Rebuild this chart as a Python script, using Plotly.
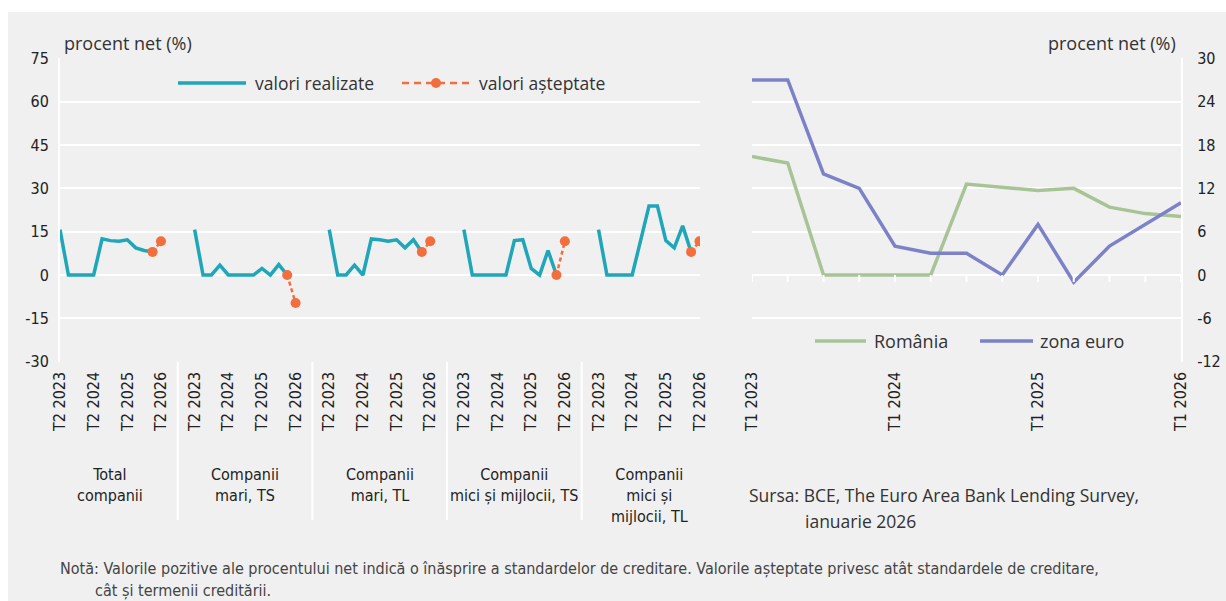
import plotly.graph_objects as go

# --- data -----------------------------------------------------------------
# left panel: net percentage per group, quarters T2 2023 .. T1 2026 (realized)
# and the expected values (last realized quarter -> T2 2026)
group_labels = ["Total<br>companii", "Companii<br>mari, TS", "Companii<br>mari, TL",
                "Companii<br>mici și mijlocii, TS", "Companii<br>mici și<br>mijlocii, TL"]
tick_labels_left = ["T2 2023", "T2 2024", "T2 2025", "T2 2026"]
y_ticks_left = [-30, -15, 0, 15, 30, 45, 60, 75]

total_realized = [15.7, 0, 0, 0, 0, 12.5, 11.9, 11.7, 12.2, 9.4, 8.5, 8.0]
total_expected = [8.0, 11.7]
mari_ts_realized = [15.7, 0, 0, 3.4, 0, 0, 0, 0, 2.3, 0, 3.6, 0]
mari_ts_expected = [0, -9.7]
mari_tl_realized = [15.7, 0, 0, 3.4, 0, 12.5, 12.2, 11.7, 12.2, 9.4, 12.2, 8.0]
mari_tl_expected = [8.0, 11.7]
imm_ts_realized = [15.7, 0, 0, 0, 0, 0, 11.9, 12.2, 2.3, 0, 8.5, 0]
imm_ts_expected = [0, 11.7]
imm_tl_realized = [15.7, 0, 0, 0, 0, 11.9, 23.9, 23.9, 11.9, 9.4, 17.0, 8.0]
imm_tl_expected = [8.0, 11.7]

# right panel: quarters T1 2023 .. T1 2026
tick_labels_right = ["T1 2023", "T1 2024", "T1 2025", "T1 2026"]
y_ticks_right = [-12, -6, 0, 6, 12, 18, 24, 30]
romania = [16.4, 15.5, 0, 0, 0, 0, 12.6, 12.1, 11.7, 12.0, 9.4, 8.5, 8.1]
zona_euro = [27, 27, 14, 12, 4, 3, 3, 0, 7, -1, 4, 7, 10]

TEAL = "#1fa6b8"
ORANGE = "#f26e3c"
GREEN = "#a8c496"
BLUE = "#7d82c8"
BG = "#f0f0f0"
NARROW = "DejaVu Sans Condensed, Liberation Sans Narrow, sans-serif"
NORMAL = "Open Sans, Noto Sans, sans-serif"

W, H = 1226, 601


def px(x):
    return x / W


def py(y):
    return 1 - y / H


STEP = 16  # 13 quarters + 3 empty slots between groups
realized = [total_realized, mari_ts_realized, mari_tl_realized, imm_ts_realized, imm_tl_realized]
expected = [total_expected, mari_ts_expected, mari_tl_expected, imm_ts_expected, imm_tl_expected]

rx, ry, ex, ey = [], [], [], []
for g in range(5):
    rx += [STEP * g + i for i in range(len(realized[g]))] + [None]
    ry += realized[g] + [None]
    start = len(realized[g]) - 1
    ex += [STEP * g + start + i for i in range(len(expected[g]))] + [None]
    ey += expected[g] + [None]

fig = go.Figure()
fig.add_trace(go.Scatter(x=rx, y=ry, mode="lines", line=dict(color=TEAL, width=3.5),
                         name="valori realizate", showlegend=False, xaxis="x", yaxis="y"))
fig.add_trace(go.Scatter(x=ex, y=ey, mode="lines+markers",
                         line=dict(color=ORANGE, width=2.5, dash="4px,3px"),
                         marker=dict(color=ORANGE, size=10),
                         name="valori așteptate", showlegend=False, xaxis="x", yaxis="y"))

quarters = list(range(len(romania)))
fig.add_trace(go.Scatter(x=quarters, y=romania, mode="lines", line=dict(color=GREEN, width=3.5),
                         name="România", showlegend=False, xaxis="x2", yaxis="y2"))
fig.add_trace(go.Scatter(x=quarters, y=zona_euro, mode="lines", line=dict(color=BLUE, width=3.5),
                         name="zona euro", showlegend=False, xaxis="x2", yaxis="y2"))

ydom = [py(361.7), py(58.3)]
left_ticks = [STEP * g + 4 * k for g in range(5) for k in range(4)]

fig.update_layout(
    width=W, height=H,
    margin=dict(l=0, r=0, t=0, b=0, autoexpand=False),
    paper_bgcolor=BG, plot_bgcolor=BG,
    showlegend=False,
    font=dict(family=NARROW, size=16, color="#222"),
    xaxis=dict(domain=[px(60), px(700)], range=[0, 76.06], showgrid=False, zeroline=False,
               tickmode="array", tickvals=left_ticks, ticktext=tick_labels_left * 5,
               tickangle=-90, ticks="", ticklabelstandoff=6, anchor="y", automargin=False),
    yaxis=dict(domain=ydom, range=[-30, 75], tickmode="array", tickvals=y_ticks_left,
               ticktext=[str(v) for v in y_ticks_left], gridcolor="white", gridwidth=2,
               zeroline=False, showline=True, linecolor="white", linewidth=2, ticks="",
               ticklabelstandoff=6, anchor="x", automargin=False),
    xaxis2=dict(domain=[px(752), px(1181)], range=[0, 12], showgrid=False, zeroline=False,
                tickmode="array", tickvals=[0, 4, 8, 12], ticktext=tick_labels_right,
                tickangle=-90, ticks="", ticklabelstandoff=6, anchor="y2", automargin=False),
    yaxis2=dict(domain=ydom, range=[-12, 30], tickmode="array", tickvals=y_ticks_right,
                ticktext=[str(v) for v in y_ticks_right], gridcolor="white", gridwidth=2,
                zeroline=False, showline=True, linecolor="white", linewidth=2, ticks="",
                side="right", ticklabelstandoff=11, anchor="x2", automargin=False),
)

shapes = [
    # white strips above and left of the chart panel
    dict(type="rect", xref="paper", yref="paper", x0=0, x1=1, y0=py(12), y1=1,
         fillcolor="white", line_width=0, layer="below"),
    dict(type="rect", xref="paper", yref="paper", x0=0, x1=px(8), y0=0, y1=1,
         fillcolor="white", line_width=0, layer="below"),
]
# separators between groups
for g in range(4):
    xs = STEP * g + 14
    shapes.append(dict(type="line", xref="x", yref="paper", x0=xs, x1=xs, y0=py(362), y1=py(520),
                       line=dict(color="white", width=2)))
# small ticks hanging from the zero line of the right panel
for q in quarters:
    shapes.append(dict(type="line", xref="x2", yref="y2", ysizemode="pixel", yanchor=0,
                       x0=q, x1=q, y0=0, y1=-7, line=dict(color="white", width=2)))

# manual legends
shapes += [
    dict(type="line", xref="paper", yref="paper", x0=px(178), x1=px(246), y0=py(83), y1=py(83),
         line=dict(color=TEAL, width=3.5)),
    dict(type="line", xref="paper", yref="paper", x0=px(402), x1=px(470), y0=py(83), y1=py(83),
         line=dict(color=ORANGE, width=2.5, dash="7px,5px")),
    dict(type="circle", xref="paper", yref="paper", x0=px(431), x1=px(441), y0=py(88), y1=py(78),
         fillcolor=ORANGE, line_width=0),
    dict(type="line", xref="paper", yref="paper", x0=px(815), x1=px(866), y0=py(341), y1=py(341),
         line=dict(color=GREEN, width=3.5)),
    dict(type="line", xref="paper", yref="paper", x0=px(980), x1=px(1033), y0=py(341), y1=py(341),
         line=dict(color=BLUE, width=3.5)),
]
fig.update_layout(shapes=shapes)


def note(text, x, y, xanchor="left", family=NORMAL, size=18, color="#333"):
    fig.add_annotation(text=text, x=x, y=y, xref="paper", yref="paper", xanchor=xanchor,
                       yanchor="middle", showarrow=False, align="left",
                       font=dict(family=family, size=size, color=color))


note("procent net (%)", px(62), py(43))
note("procent net (%)", px(1178), py(43), xanchor="right")
note("valori realizate", px(253), py(83), size=17.5)
note("valori așteptate", px(477), py(83), size=17.5)
note("România", px(872), py(341))
note("zona euro", px(1038), py(341))
note("Sursa: BCE, The Euro Area Bank Lending Survey,", px(747), py(495), size=17.5)
note("ianuarie 2026", px(803), py(521), size=17.5)
note("Notă: Valorile pozitive ale procentului net indică o înăsprire a standardelor de creditare. "
     "Valorile așteptate privesc atât standardele de creditare,", px(58), py(568),
     family=NARROW, size=16, color="#444")
note("cât și termenii creditării.", px(93), py(590), family=NARROW, size=16, color="#444")

for g, label in enumerate(group_labels):
    fig.add_annotation(text=label, x=STEP * g + 6, xref="x", y=py(463), yref="paper",
                       yanchor="top", showarrow=False, align="center",
                       font=dict(family=NARROW, size=16, color="#222"))

# drop the default page margin so the figure fills the window exactly
fig.write_html("out.html", config={"displayModeBar": False},
               post_script="document.body.style.margin='0';"
                           "document.documentElement.style.overflow='hidden';")
